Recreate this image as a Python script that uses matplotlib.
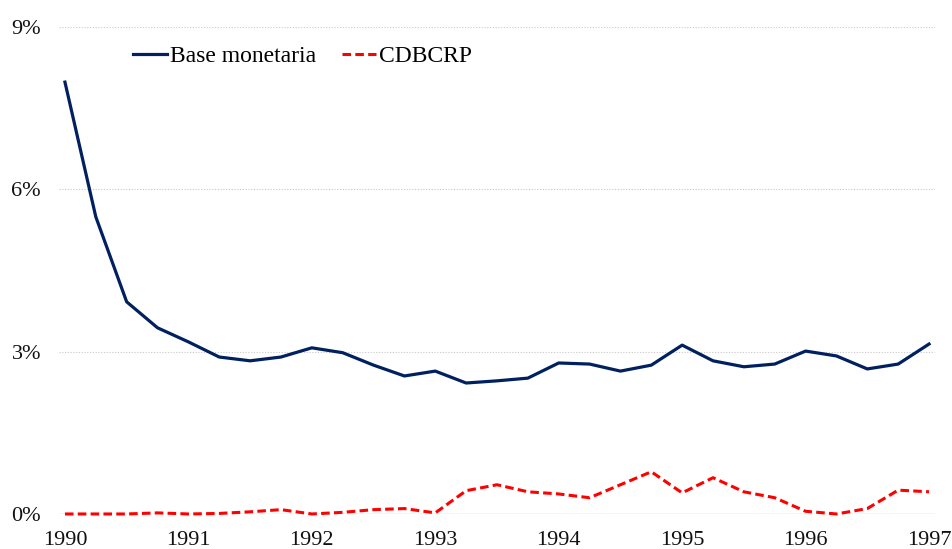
import matplotlib.pyplot as plt

# quarterly series, 1990Q1 .. 1997Q1 (% )
years = [1990, 1991, 1992, 1993, 1994, 1995, 1996, 1997]
base_monetaria = [7.98, 5.49, 3.92, 3.44, 3.18, 2.90, 2.83, 2.90,
                  3.07, 2.98, 2.75, 2.55, 2.64, 2.42, 2.46, 2.51,
                  2.79, 2.77, 2.64, 2.75, 3.12, 2.83, 2.72, 2.77,
                  3.01, 2.92, 2.68, 2.77, 3.14]
cdbcrp = [0.0, 0.0, 0.0, 0.02, 0.0, 0.01, 0.04, 0.08,
          0.0, 0.03, 0.08, 0.10, 0.02, 0.43, 0.54, 0.41,
          0.37, 0.30, 0.54, 0.78, 0.39, 0.67, 0.41, 0.30,
          0.05, 0.0, 0.10, 0.44, 0.41]
y_ticks = [0, 3, 6, 9]

plt.rcParams['font.family'] = ['Liberation Serif', 'DejaVu Serif']

fig = plt.figure(figsize=(9.53, 5.49), dpi=100)
ax = fig.add_axes([0.062, 0.0638, 0.919, 0.8872])

q = list(range(len(base_monetaria)))
ax.plot(q, base_monetaria, color='#002060', lw=2.3, label='Base monetaria',
        clip_on=False)
ax.plot(q, cdbcrp, color='#FF0000', lw=2.2, ls=(0, (2.8, 1.4)), label='CDBCRP',
        clip_on=False)

ax.set_xlim(-0.19, 28.19)
ax.set_ylim(0, 9)
ax.set_xticks([4 * i for i in range(len(years))])
ax.set_xticklabels([str(y) for y in years])
ax.set_yticks(y_ticks)
ax.set_yticklabels([f'{t}%' for t in y_ticks])
ax.tick_params(length=0, labelsize=16, colors='#111111')
ax.tick_params(axis='y', pad=13)
ax.tick_params(axis='x', pad=12)

for t in y_ticks[1:]:
    ax.axhline(t, color='#c8c8c8', lw=0.8, ls=(0, (1, 1.5)), zorder=0)
ax.axhline(0, color='#d0d0d0', lw=1.0, zorder=0)

for s in ax.spines.values():
    s.set_visible(False)

ax.legend(loc='upper left', bbox_to_anchor=(0.06, 1.005), ncol=2, frameon=False,
          fontsize=17, handlelength=1.45, handletextpad=0.12, columnspacing=1.1)

fig.savefig('out.png', dpi=100)
